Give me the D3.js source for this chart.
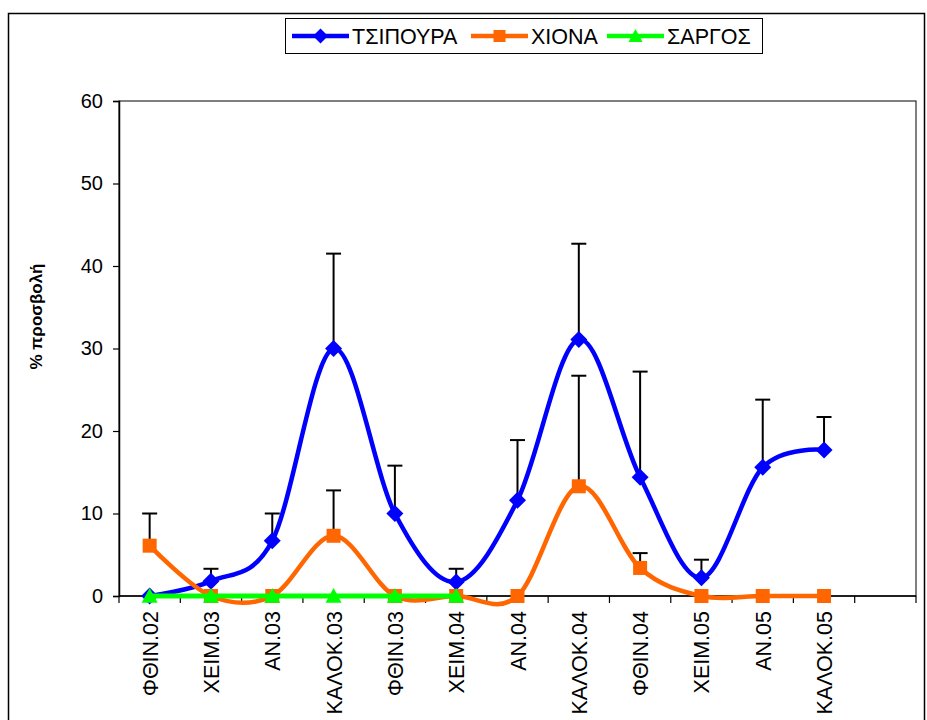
<!DOCTYPE html>
<html>
<head>
<meta charset="utf-8">
<script src="https://cdn.jsdelivr.net/npm/d3@7"></script>
<style>
  html, body { margin: 0; padding: 0; background: #fff; }
  svg { display: block; font-family: 'Liberation Sans', Arial, sans-serif; }
</style>
</head>
<body>
<div id="chart"></div>
<script>
// categories (one extra empty slot on the right, like the original)
const categories = ['ΦΘΙΝ.02', 'ΧΕΙΜ.03', 'ΑΝ.03', 'ΚΑΛΟΚ.03', 'ΦΘΙΝ.03', 'ΧΕΙΜ.04',
  'ΑΝ.04', 'ΚΑΛΟΚ.04', 'ΦΘΙΝ.04', 'ΧΕΙΜ.05', 'ΑΝ.05', 'ΚΑΛΟΚ.05']
const slots = categories.concat(['_empty'])

const tsipoura = [0, 1.8, 6.7, 30.0, 10.0, 1.7, 11.6, 31.1, 14.4, 2.2, 15.6, 17.7]
const tsipouraErr = [0, 1.5, 3.3, 11.5, 5.8, 1.6, 7.3, 11.6, 12.8, 2.2, 8.2, 4.0]
const xiona = [6.1, 0, 0, 7.3, 0, 0, 0, 13.3, 3.4, 0, 0, 0]
const xionaErr = [3.9, 0, 0, 5.5, 0, 0, 0, 13.4, 1.8, 0, 0, 0]
const sargos = [0, 0, 0, 0, 0, 0]

const yTicks = [0, 10, 20, 30, 40, 50, 60]

const width = 927
const height = 720
const margin = { top: 101, right: 11, bottom: 124, left: 119 }

const series = [
  { name: 'ΤΣΙΠΟΥΡΑ', values: tsipoura, err: tsipouraErr, color: '#0000ff', marker: 'diamond' },
  { name: 'ΧΙΟΝΑ', values: xiona, err: xionaErr, color: '#ff6600', marker: 'square' },
  { name: 'ΣΑΡΓΟΣ', values: sargos, err: null, color: '#00ff00', marker: 'triangle' },
]

const svg = d3.select('#chart').append('svg')
  .attr('width', width)
  .attr('height', height)

// outer chart frame
svg.append('rect')
  .attr('x', 8.5).attr('y', 13.5)
  .attr('width', 916).attr('height', 800)
  .attr('fill', 'none')
  .attr('stroke', '#000')
  .attr('stroke-width', 1.5)

const x = d3.scaleBand()
  .domain(slots)
  .range([margin.left, width - margin.right])

const y = d3.scaleLinear()
  .domain([0, 60])
  .range([height - margin.bottom, margin.top])

const cx = (i) => x(slots[i]) + x.bandwidth() / 2

// plot area frame
svg.append('rect')
  .attr('x', margin.left).attr('y', y(60))
  .attr('width', x.range()[1] - margin.left)
  .attr('height', y(0) - y(60))
  .attr('fill', 'none')
  .attr('stroke', '#000')
  .attr('stroke-width', 1)

// y axis
const yAxis = svg.append('g')
  .attr('transform', `translate(${margin.left},0)`)
  .call(d3.axisLeft(y).tickValues(yTicks).tickSize(6).tickPadding(10))
yAxis.select('.domain').attr('stroke', '#000').attr('stroke-width', 1.5)
yAxis.selectAll('.tick line').attr('stroke', '#000').attr('stroke-width', 1.2)
yAxis.selectAll('.tick text')
  .attr('font-size', 20)
  .attr('font-family', "'Liberation Sans', Arial, sans-serif")
  .attr('fill', '#000')

// x axis: ticks on category boundaries, labels rotated
const xAxisG = svg.append('g').attr('transform', `translate(0,${y(0)})`)
xAxisG.append('line')
  .attr('x1', margin.left).attr('x2', x.range()[1])
  .attr('stroke', '#000').attr('stroke-width', 1.5)
xAxisG.selectAll('.xtick')
  .data(d3.range(slots.length + 1))
  .join('line')
  .attr('class', 'xtick')
  .attr('x1', (i) => margin.left + i * x.bandwidth())
  .attr('x2', (i) => margin.left + i * x.bandwidth())
  .attr('y1', 0).attr('y2', 7)
  .attr('stroke', '#000').attr('stroke-width', 1.2)
xAxisG.selectAll('.xlabel')
  .data(categories)
  .join('text')
  .attr('class', 'xlabel')
  .attr('transform', (d, i) => `translate(${cx(i) + 8},15) rotate(-90)`)
  .attr('text-anchor', 'end')
  .attr('font-size', 21.5)
  .attr('fill', '#000')
  .text((d) => d)

// y axis title
svg.append('text')
  .attr('transform', `translate(42,${(265 + 368) / 2}) rotate(-90)`)
  .attr('text-anchor', 'middle')
  .attr('font-size', 17)
  .attr('font-weight', 'bold')
  .attr('fill', '#000')
  .text('% προσβολή')

// error bars (plus direction only), drawn under the lines
const errG = svg.append('g')
series.filter((s) => s.err).forEach((s) => {
  s.values.forEach((v, i) => {
    const e = s.err[i]
    if (!e) return
    errG.append('line')
      .attr('x1', cx(i)).attr('x2', cx(i))
      .attr('y1', y(v)).attr('y2', y(v + e))
      .attr('stroke', '#000').attr('stroke-width', 2)
    errG.append('line')
      .attr('x1', cx(i) - 7.5).attr('x2', cx(i) + 7.5)
      .attr('y1', y(v + e)).attr('y2', y(v + e))
      .attr('stroke', '#000').attr('stroke-width', 2)
  })
})

const line = d3.line()
  .x((d, i) => cx(i))
  .y((d) => y(d))
  .curve(d3.curveCardinal.tension(0))

function markerPath(type, size) {
  const h = size / 2
  if (type === 'diamond') return `M0,${-h}L${h},0L0,${h}L${-h},0Z`
  if (type === 'square') return `M${-h},${-h}H${h}V${h}H${-h}Z`
  return `M0,${-h}L${h},${h * 0.85}L${-h},${h * 0.85}Z`
}
const markerSize = { diamond: 17, square: 14, triangle: 16 }

series.forEach((s) => {
  const g = svg.append('g')
  g.append('path')
    .datum(s.values)
    .attr('d', line)
    .attr('fill', 'none')
    .attr('stroke', s.color)
    .attr('stroke-width', s.marker === 'triangle' ? 5 : 4.5)
    .attr('stroke-linejoin', 'round')
  g.selectAll('path.mk')
    .data(s.values)
    .join('path')
    .attr('class', 'mk')
    .attr('transform', (d, i) => `translate(${cx(i)},${y(d)})`)
    .attr('d', markerPath(s.marker, markerSize[s.marker]))
    .attr('fill', s.color)
})

// legend
const legend = svg.append('g')
legend.append('rect')
  .attr('x', 285.5).attr('y', 18.5)
  .attr('width', 477).attr('height', 35)
  .attr('fill', '#fff')
  .attr('stroke', '#000')
  .attr('stroke-width', 1)
const legendX = [292, 471, 607]
series.forEach((s, k) => {
  const g = legend.append('g').attr('transform', `translate(${legendX[k]},36)`)
  g.append('line')
    .attr('x1', 0).attr('x2', 57)
    .attr('stroke', s.color).attr('stroke-width', 4.5)
  g.append('path')
    .attr('transform', 'translate(28.5,0)')
    .attr('d', markerPath(s.marker, markerSize[s.marker] - 2))
    .attr('fill', s.color)
  g.append('text')
    .attr('x', 60).attr('y', 8)
    .attr('font-size', 21.5)
    .attr('fill', '#000')
    .text(s.name)
})
</script>
</body>
</html>
